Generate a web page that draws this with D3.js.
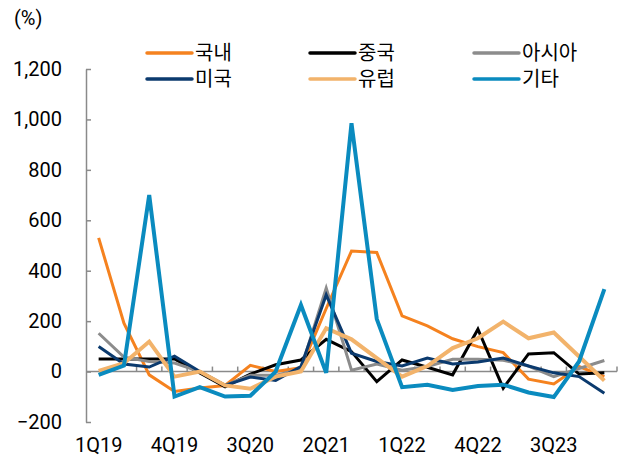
<!DOCTYPE html>
<html>
<head>
<meta charset="utf-8">
<script src="https://cdn.jsdelivr.net/npm/d3@7"></script>
<style>
  body { margin: 0; background: #fff; }
  text { font-family: Roboto, "Noto Sans CJK KR", sans-serif; fill: #000; }
</style>
</head>
<body>
<div id="chart"></div>
<script>
// quarters 1Q19 .. 1Q24
var quarters = ["1Q19","2Q19","3Q19","4Q19","1Q20","2Q20","3Q20","4Q20","1Q21","2Q21","3Q21","4Q21",
                "1Q22","2Q22","3Q22","4Q22","1Q23","2Q23","3Q23","4Q23","1Q24"];
var tickLabels = ["1Q19","4Q19","3Q20","2Q21","1Q22","4Q22","3Q23"];
var yTicks = [-200, 0, 200, 400, 600, 800, 1000, 1200];

var seriesNames = ["국내", "중국", "아시아", "미국", "유럽", "기타"];
var domestic = [530, 192, -13, -79, -65, -55, 25, 0, 15, 250, 478, 472, 221, 181, 130, 99, 75, -30, -49, 20, -20];
var china    = [50, 50, 50, 50, -5, -60, -10, 27, 46, 128, 79, -40, 46, 17, -13, 168, -66, 70, 75, -10, -5];
var asia     = [152, 57, 40, 34, 0, -55, -15, -15, 10, 331, 5, 30, 5, 20, 49, 49, 45, 22, -20, 12, 44];
var usa      = [99, 30, 18, 61, 0, -55, -22, -35, 20, 304, 73, 40, 22, 54, 30, 38, 54, 22, -5, -20, -86];
var europe   = [3, 33, 119, -20, 0, -55, -68, -20, 0, 172, 128, 53, -20, 22, 93, 132, 198, 132, 155, 60, -36];
var others   = [-13, 24, 700, -99, -62, -99, -96, 0, 264, -5, 985, 208, -62, -52, -73, -57, -52, -83, -101, 40, 327];

var colors = ["#F5821F", "#000000", "#8C8C8C", "#0B3A6E", "#F2B36B", "#0A8BBF"];
var widths = [3, 3, 3, 3, 4, 4];
var allData = [domestic, china, asia, usa, europe, others];

var svgWidth = 627, svgHeight = 460;
var svg = d3.select("#chart").append("svg").attr("width", svgWidth).attr("height", svgHeight);

var xScale = d3.scaleBand().domain(quarters).range([86, 617]).padding(0);
var yScale = d3.scaleLinear().domain([-200, 1200]).range([422, 69]);
var axisColor = "#8a8a8a";

// y axis, ticks pointing inside
var leftAxis = d3.axisLeft(yScale).tickValues(yTicks).tickSizeInner(-5).tickSizeOuter(0).tickFormat(d3.format(","));
var yAxisG = svg.append("g").attr("transform", "translate(86,0)").call(leftAxis);
yAxisG.select(".domain").attr("stroke", axisColor).attr("stroke-width", 1.5);
yAxisG.selectAll(".tick line").attr("stroke", axisColor).attr("stroke-width", 1.5);
yAxisG.selectAll(".tick text").attr("x", -24).attr("font-size", 20).attr("fill", "#000");

// zero line with ticks at category boundaries
var zeroY = yScale(0);
svg.append("line").attr("x1", 86).attr("x2", 617).attr("y1", zeroY).attr("y2", zeroY)
  .attr("stroke", axisColor).attr("stroke-width", 1.5);
svg.append("g").selectAll("line").data(quarters).enter().append("line")
  .attr("x1", d => xScale(d) + xScale.bandwidth())
  .attr("x2", d => xScale(d) + xScale.bandwidth())
  .attr("y1", zeroY).attr("y2", zeroY - 5)
  .attr("stroke", axisColor).attr("stroke-width", 1.5);

// x labels
svg.append("g").selectAll("text").data(tickLabels).enter().append("text")
  .attr("x", d => xScale(d) + xScale.bandwidth() / 2)
  .attr("y", 452)
  .attr("text-anchor", "middle")
  .attr("font-size", 20)
  .text(d => d);

svg.append("text").attr("x", 14).attr("y", 25).attr("font-size", 20).text("(%)");

// lines
var line = d3.line()
  .x((d, i) => xScale(quarters[i]) + xScale.bandwidth() / 2)
  .y(d => yScale(d));

allData.forEach(function(values, k) {
  svg.append("path").datum(values)
    .attr("d", line)
    .attr("fill", "none")
    .attr("stroke", colors[k])
    .attr("stroke-width", widths[k])
    .attr("stroke-linejoin", "miter");
});

// legend, 3 columns x 2 rows
var legendX = [147, 310, 474];
var legendY = [53, 79];
seriesNames.forEach(function(name, k) {
  var col = k % 3, row = Math.floor(k / 3);
  var g = svg.append("g").attr("transform", `translate(${legendX[col]}, ${legendY[row]})`);
  g.append("line").attr("x1", 0).attr("x2", 45).attr("y1", 0).attr("y2", 0)
    .attr("stroke", colors[k]).attr("stroke-width", 3.5).attr("stroke-linecap", "round");
  g.append("text").attr("x", 48).attr("y", 7).attr("font-size", 20).text(name);
});
</script>
</body>
</html>
